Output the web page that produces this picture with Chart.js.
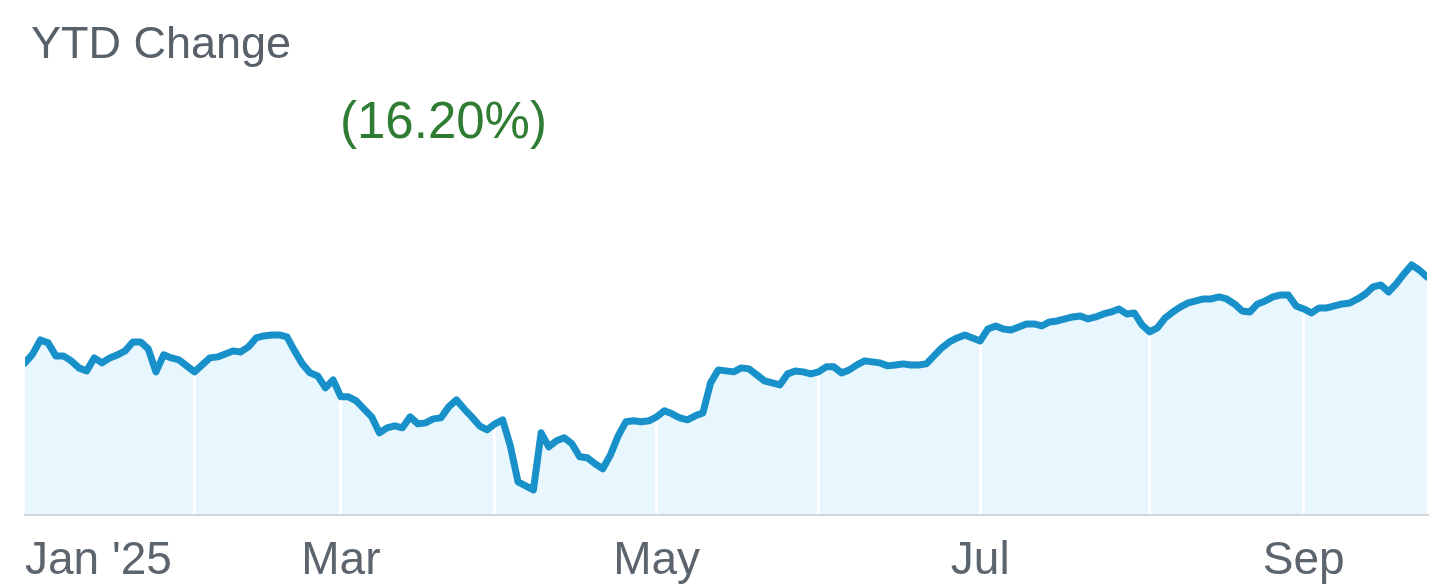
<!DOCTYPE html>
<html>
<head>
<meta charset="utf-8">
<title>YTD Change</title>
<script src="https://cdn.jsdelivr.net/npm/chart.js@4.4.1/dist/chart.umd.min.js"></script>
<style>
  html, body { margin: 0; padding: 0; background: #fff; overflow: hidden; }
  .wrap { position: relative; width: 1456px; height: 584px; overflow: hidden; font-family: "Liberation Sans", Arial, sans-serif; }
  .title { position: absolute; left: 31px; top: 20px; font-size: 45px; line-height: 1; color: #58606a; }
  .change { position: absolute; left: 340px; top: 95px; font-size: 51px; line-height: 1; color: #2e7d32; }
  /* canvas runs a bit past the bottom edge, the month labels are cut like in the source */
  #ytdChart { position: absolute; left: 0; top: 0; }
</style>
</head>
<body>
<div class="wrap">
  <canvas id="ytdChart" width="1456" height="604"></canvas>
  <div class="title">YTD Change</div>
  <div class="change">(16.20%)</div>
</div>

<script>
// YTD % change, one value per trading day (day 0 = Dec 31 close)
const ytdValues = [
  0, 1.69, 4.33, 3.77, 1.32, 1.32, 0.38, -0.94, -1.51, 0.94,
  0, 0.94, 1.51, 2.26, 3.95, 3.95, 2.64, -1.69, 1.51, 0.94,
  0.56, -0.56, -1.69, -0.38, 0.94, 1.13, 1.69, 2.26, 2.07, 3.01,
  4.71, 5.08, 5.27, 5.27, 4.90, 2.26, -0.19, -1.88, -2.45, -4.71,
  -3.20, -6.40, -6.40, -7.16, -8.66, -10.17, -13.18, -12.24, -11.86, -12.24,
  -10.17, -11.49, -11.30, -10.55, -10.36, -8.29, -6.97, -8.66, -10.17, -11.86,
  -12.62, -11.49, -10.73, -15.63, -22.41, -23.16, -23.92, -13.18, -15.82, -14.69,
  -14.12, -15.25, -17.70, -17.89, -19.02, -19.96, -17.33, -13.75, -11.11, -10.92,
  -11.11, -10.92, -10.17, -9.04, -9.60, -10.36, -10.73, -9.98, -9.42, -3.77,
  -1.32, -1.51, -1.69, -0.94, -1.13, -2.26, -3.39, -3.77, -4.14, -2.07,
  -1.51, -1.69, -2.07, -1.69, -0.75, -0.75, -1.88, -1.32, -0.38, 0.38,
  0.19, 0, -0.56, -0.38, -0.19, -0.38, -0.38, -0.19, 1.32, 2.82,
  3.95, 4.71, 5.27, 4.71, 4.14, 6.40, 6.97, 6.40, 6.21, 6.78,
  7.34, 7.34, 6.97, 7.72, 7.91, 8.29, 8.66, 8.85, 8.29, 8.66,
  9.23, 9.60, 10.17, 9.23, 9.42, 7.16, 5.84, 6.59, 8.47, 9.60,
  10.55, 11.30, 11.68, 12.05, 12.05, 12.43, 12.05, 11.11, 9.79, 9.60,
  11.11, 11.68, 12.43, 12.81, 12.81, 10.73, 10.17, 9.42, 10.36, 10.36,
  10.73, 11.11, 11.30, 12.05, 12.99, 14.31, 14.69, 13.37, 14.88, 16.76,
  18.46, 17.51, 16.20
];
const tradingDays = ytdValues.map((_, i) => i);

// month boundaries (trading day index) and their labels
const tickDays   = [0, 22, 41, 61, 82, 103, 124, 146, 166, 182];
const tickLabels = ["Jan '25", '', 'Mar', '', 'May', '', 'Jul', '', 'Sep', ''];

const yMin = -28.63;
const yMax = 30.70;

new Chart(document.getElementById('ytdChart'), {
  type: 'line',
  data: {
    labels: tradingDays,
    datasets: [{
      data: ytdValues,
      borderColor: '#1890c9',
      backgroundColor: '#e8f6fd',
      borderWidth: 7,
      borderJoinStyle: 'round',
      borderCapStyle: 'round',
      pointRadius: 0,
      tension: 0,
      fill: 'start'
    }]
  },
  options: {
    responsive: false,
    animation: false,
    layout: { padding: { top: 200, left: 25, right: 29, bottom: -4 } },
    plugins: {
      legend: { display: false },
      tooltip: { enabled: false },
      filler: { drawTime: 'beforeDraw' }
    },
    scales: {
      x: {
        type: 'linear',
        min: 0,
        max: tickDays[tickDays.length - 1],
        afterBuildTicks: (scale) => {
          scale.ticks = tickDays.map(v => ({ value: v }));
        },
        grid: {
          drawTicks: false,
          lineWidth: 3,
          color: (ctx) => {
            const i = ctx.index;
            return (i === 0 || i === tickDays.length - 1) ? 'rgba(0,0,0,0)' : '#ffffff';
          }
        },
        border: { display: true, color: '#d3d7db', width: 2 },
        ticks: {
          autoSkip: false,
          maxRotation: 0,
          align: 'inner',
          padding: 19,
          color: '#5c646e',
          font: { family: '"Liberation Sans", Arial, sans-serif', size: 46 },
          callback: (value, index) => tickLabels[index]
        }
      },
      y: {
        display: false,
        min: yMin,
        max: yMax
      }
    }
  }
});
</script>
</body>
</html>
